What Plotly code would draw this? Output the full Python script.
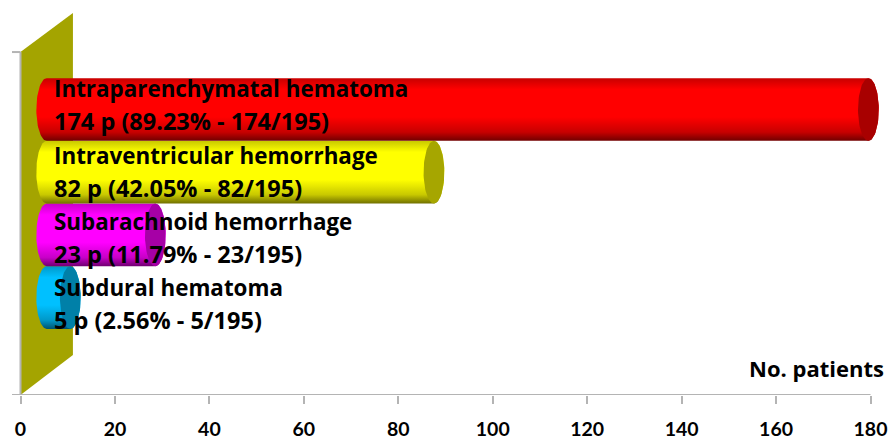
'''
    Horizontal 3D-looking cylinder chart of hemorrhage types (no. patients).
'''
import numpy as np
import plotly.graph_objects as go

# top to bottom in the picture
categories = ['Intraparenchymatal hematoma', 'Intraventricular hemorrhage',
              'Subarachnoid hemorrhage', 'Subdural hematoma']
values = [174, 82, 23, 5]
value_labels = ['174 p (89.23% - 174/195)', '82 p (42.05% - 82/195)',
                '23 p (11.79% - 23/195)', '5 p (2.56% - 5/195)']
tick_values = [0, 20, 40, 60, 80, 100, 120, 140, 160, 180]

# bright, mid and dark shade of each cylinder
gradients = [
    ['#ff0000', '#c80000', '#700000'],
    ['#ffff00', '#c8c800', '#707000'],
    ['#ff00ff', '#c800c8', '#700070'],
    ['#00c0ff', '#0098c8', '#005470'],
]
cap_colors = ['#a80000', '#a6a600', '#a600a6', '#0080a8']

WALL_COLOR = '#a4a400'
AXIS_COLOR = '#b4b4b4'
FONT = 'Open Sans'
TICK_FONT = 'Lato'
DEPTH = 11.1  # how far the back wall sits behind the axis, in x units
CAP = 2.2  # half width of the end ellipse, in x units
Y_RANGE = [-1.555, 4.54]
X_RANGE = [-1.8, 183.7]
WALL_BOTTOM = -0.917
WALL_TOP = 3.917
TEXT_STEP = 1.056  # the labels are spaced a little wider than the cylinders


def cylinder_outline(value, row):
    '''
        Returns the outline of a cylinder body: rounded at the left,
        rounded at the right.
    '''
    t = np.linspace(0, np.pi, 40)
    left = DEPTH / 2
    right = value + DEPTH / 2
    xs = np.concatenate([right + CAP * np.sin(t), left - CAP * np.sin(t)])
    ys = np.concatenate([row + 0.5 * np.cos(t), row - 0.5 * np.cos(t)])
    return np.append(xs, xs[0]), np.append(ys, ys[0])


def cap_outline(value, row):
    t = np.linspace(0, 2 * np.pi, 80)
    return value + DEPTH / 2 + CAP * np.sin(t), row + 0.5 * np.cos(t)


fig = go.Figure()

# back wall
fig.add_trace(go.Scatter(
    x=[0, DEPTH, DEPTH, 0, 0],
    y=[Y_RANGE[0], WALL_BOTTOM, Y_RANGE[1], WALL_TOP, Y_RANGE[0]],
    mode='lines', fill='toself', fillcolor=WALL_COLOR,
    line=dict(width=0), hoverinfo='skip', showlegend=False))

rows = list(range(len(categories) - 1, -1, -1))

# drawn bottom row first so the upper cylinder overlaps the lower one
for i in reversed(range(len(categories))):
    xs, ys = cylinder_outline(values[i], rows[i])
    bright, mid, dark = gradients[i]
    fig.add_trace(go.Scatter(
        x=xs, y=ys, mode='lines', fill='toself',
        line=dict(width=0), name=categories[i], showlegend=False,
        fillgradient=dict(
            type='vertical',
            colorscale=[[0, dark], [0.14, mid], [0.38, bright], [0.82, bright],
                        [1, mid]])))
    cx, cy = cap_outline(values[i], rows[i])
    fig.add_trace(go.Scatter(
        x=cx, y=cy, mode='lines', fill='toself', fillcolor=cap_colors[i],
        line=dict(width=0), hoverinfo='skip', showlegend=False))

for i in range(len(categories)):
    fig.add_annotation(x=6.6, y=3.33 - i * TEXT_STEP, text=categories[i], showarrow=False,
                       xanchor='left', yanchor='middle',
                       font=dict(family=FONT, size=22.4, color='black', weight='bold'))
    fig.add_annotation(x=6.6, y=2.81 - i * TEXT_STEP, text=value_labels[i], showarrow=False,
                       xanchor='left', yanchor='middle',
                       font=dict(family=FONT, size=23.5, color='black', weight='bold'))

fig.add_annotation(x=183.3, y=-1.13, text='No. patients', showarrow=False,
                   xanchor='right', yanchor='middle',
                   font=dict(family=FONT, size=22, color='black', weight='bold'))

# axis lines, they stop short of the plot edges
line = dict(color=AXIS_COLOR, width=2)
fig.add_shape(type='line', x0=X_RANGE[0], x1=180, y0=Y_RANGE[0], y1=Y_RANGE[0], line=line)
fig.add_shape(type='line', x0=0, x1=0, y0=Y_RANGE[0], y1=WALL_TOP, line=line)
fig.add_shape(type='line', x0=X_RANGE[0], x1=0, y0=WALL_TOP, y1=WALL_TOP, line=line)

fig.update_xaxes(range=X_RANGE, tickvals=tick_values, showgrid=False, zeroline=False,
                 showline=False, ticks='outside', ticklen=8, tickwidth=2,
                 tickcolor=AXIS_COLOR, ticklabelstandoff=9,
                 tickfont=dict(family=TICK_FONT, size=19.5, color='black', weight='bold'))
fig.update_yaxes(range=Y_RANGE, visible=False)
fig.update_layout(width=888, height=443, plot_bgcolor='white', paper_bgcolor='white',
                  margin=dict(l=12, r=0, t=13, b=48), showlegend=False)

# the page's default body margin would push the chart out of the window
fig.write_html("out.html", config=dict(displayModeBar=False),
               post_script="document.body.style.margin='0';")
